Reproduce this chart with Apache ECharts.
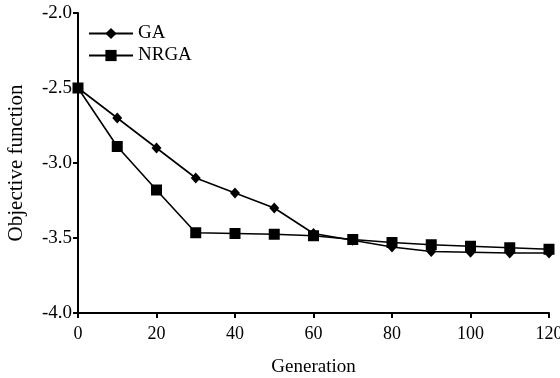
<!DOCTYPE html>
<html><head><meta charset="utf-8">
<script src="https://cdn.jsdelivr.net/npm/echarts@6/dist/echarts.min.js"></script>
<style>html,body{margin:0;padding:0;background:#fff}#c{width:560px;height:378px}</style>
</head><body><div id="c"></div>
<script>
var generations = [0,10,20,30,40,50,60,70,80,90,100,110,120];
var gaValues   = [-2.5,-2.70,-2.90,-3.10,-3.20,-3.30,-3.47,-3.515,-3.56,-3.59,-3.595,-3.60,-3.60];
var nrgaValues = [-2.5,-2.89,-3.18,-3.465,-3.47,-3.475,-3.485,-3.51,-3.53,-3.545,-3.555,-3.565,-3.575];
var xTicks = [0,20,40,60,80,100,120];
var yTicks = [-4.0,-3.5,-3.0,-2.5,-2.0];

var font = 'Liberation Serif';
var chart = echarts.init(document.getElementById('c'));
function pairs(xs, ys){ return xs.map(function(x,i){return [x, ys[i]];}); }
chart.setOption({
  animation:false,
  textStyle:{fontFamily:font},
  grid:{left:78,right:11,top:13,bottom:65,containLabel:false,outerBoundsMode:'none'},
  legend:{
    orient:'vertical', left:88, top:24, padding:0, itemWidth:44, itemHeight:14, itemGap:3,
    textStyle:{fontFamily:font,fontSize:19,color:'#000'},
    data:['GA','NRGA']
  },
  xAxis:{
    type:'value', min:0, max:120, interval:20,
    name:'Generation', nameLocation:'middle', nameGap:45,
    nameTextStyle:{fontFamily:font,fontSize:19,color:'#000'},
    axisLine:{lineStyle:{color:'#000',width:2}},
    axisTick:{lineStyle:{color:'#000',width:2},length:5},
    axisLabel:{fontFamily:font,fontSize:18,color:'#000',margin:12},
    splitLine:{show:false}
  },
  yAxis:{
    type:'value', min:-4, max:-2, interval:0.5,
    name:'Objective function', nameLocation:'middle', nameGap:51,
    nameTextStyle:{fontFamily:font,fontSize:21,color:'#000'},
    axisLine:{show:true,lineStyle:{color:'#000',width:2}},
    axisTick:{show:true,lineStyle:{color:'#000',width:2},length:5},
    axisLabel:{fontFamily:font,fontSize:19,color:'#000',margin:6,
      formatter:function(v){return v.toFixed(1);}},
    splitLine:{show:false}
  },
  series:[
    {name:'GA',type:'line',data:pairs(generations,gaValues),symbol:'diamond',symbolSize:[10,11],
     lineStyle:{color:'#000',width:1.6},itemStyle:{color:'#000'}},
    {name:'NRGA',type:'line',data:pairs(generations,nrgaValues),symbol:'rect',symbolSize:11,
     lineStyle:{color:'#000',width:1.6},itemStyle:{color:'#000'}}
  ]
});
</script></body></html>
